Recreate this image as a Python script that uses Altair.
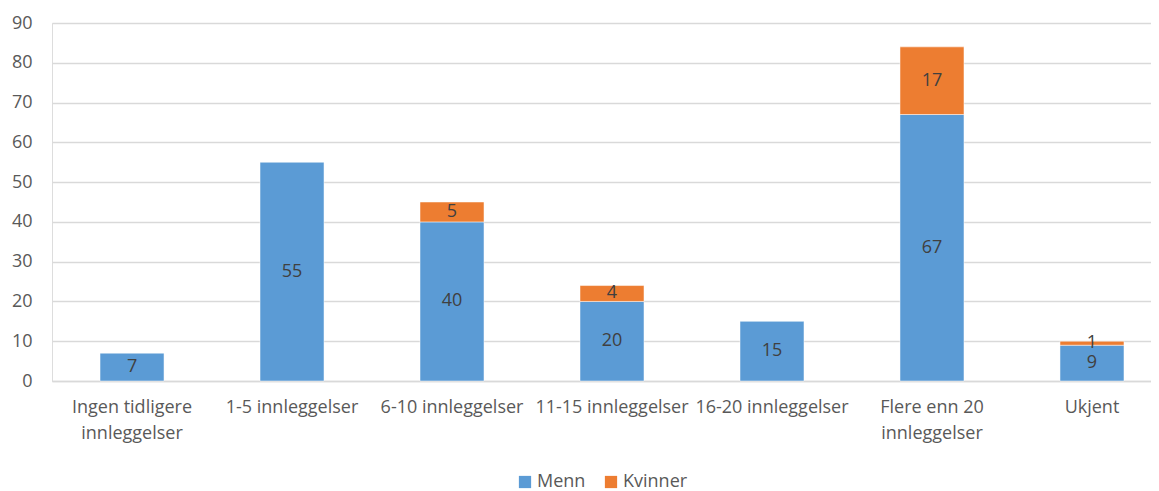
import altair as alt
import pandas as pd

categories = [
    "Ingen tidligere innleggelser",
    "1-5 innleggelser",
    "6-10 innleggelser",
    "11-15 innleggelser",
    "16-20 innleggelser",
    "Flere enn 20 innleggelser",
    "Ukjent",
]
menn = [7, 55, 40, 20, 15, 67, 9]
kvinner = [None, None, 5, 4, None, 17, 1]
series = ["Menn", "Kvinner"]
colors = ["#5B9BD5", "#ED7D31"]
y_ticks = [0, 10, 20, 30, 40, 50, 60, 70, 80, 90]

rows = []
for c, m, k in zip(categories, menn, kvinner):
    if m:
        rows.append({"kategori": c, "kjonn": "Menn", "antall": m, "rekkefolge": 0})
    if k:
        rows.append({"kategori": c, "kjonn": "Kvinner", "antall": k, "rekkefolge": 1})
df = pd.DataFrame(rows)

FONT = "Open Sans"
FS = 18

label_expr = (
    "datum.label == 'Ingen tidligere innleggelser' ? ['Ingen tidligere', 'innleggelser'] : "
    "datum.label == 'Flere enn 20 innleggelser' ? ['Flere enn 20', 'innleggelser'] : datum.label"
)

x_scale = alt.Scale(paddingInner=0.6, paddingOuter=0.2345, align=0.64)
y_scale = alt.Scale(domain=[0, 90])

x_axis = alt.Axis(
    title=None,
    labelAngle=0,
    labelExpr=label_expr,
    labelFont=FONT,
    labelFontSize=FS,
    labelColor="#595959",
    labelPadding=17,
    labelLineHeight=26,
    ticks=False,
    domain=True,
    domainColor="#D9D9D9",
    domainWidth=1.3,
    labelOverlap=False,
    labelLimit=300,
)

y_axis = alt.Axis(
    title=None,
    values=y_ticks,
    labelFont=FONT,
    labelFontSize=FS,
    labelColor="#595959",
    labelPadding=20,
    labelOverlap=False,
    ticks=False,
    domain=False,
    grid=True,
    gridColor="#D9D9D9",
    gridWidth=1.3,
)

base = alt.Chart(df).transform_stack(
    stack="antall",
    groupby=["kategori"],
    as_=["y0", "y1"],
    sort=[alt.SortField("rekkefolge", order="ascending")],
).transform_calculate(mid="(datum.y0 + datum.y1) / 2")

bars = base.mark_bar(stroke="white", strokeWidth=0.5).encode(
    x=alt.X("kategori:N", sort=categories, scale=x_scale, axis=x_axis),
    y=alt.Y("y0:Q", scale=y_scale, axis=y_axis),
    y2="y1:Q",
    color=alt.Color(
        "kjonn:N",
        scale=alt.Scale(domain=series, range=colors),
        legend=alt.Legend(
            title=None,
            orient="none",
            direction="horizontal",
            legendX=464,
            legendY=450,
            symbolType="square",
            symbolSize=150,
            symbolStrokeWidth=0,
            symbolOpacity=1,
            labelFont=FONT,
            labelFontSize=FS,
            labelColor="#595959",
            labelOffset=3,
            columnPadding=16,
        ),
    ),
)

texts = base.mark_text(font=FONT, fontSize=FS, color="#404040", baseline="middle").encode(
    x=alt.X("kategori:N", sort=categories, scale=x_scale, axis=x_axis),
    y=alt.Y("mid:Q", scale=y_scale, axis=y_axis),
    text=alt.Text("antall:Q"),
)

chart = (
    alt.layer(bars, texts)
    .properties(
        width=1099,
        height=358,
        autosize=alt.AutoSizeParams(type="none"),
        padding={"left": 44, "top": 15, "right": 0, "bottom": 110},
    )
    .configure_view(stroke=None)
    .configure(background="white")
)

chart.save("out.html", embed_options={"renderer": "svg", "actions": False})
